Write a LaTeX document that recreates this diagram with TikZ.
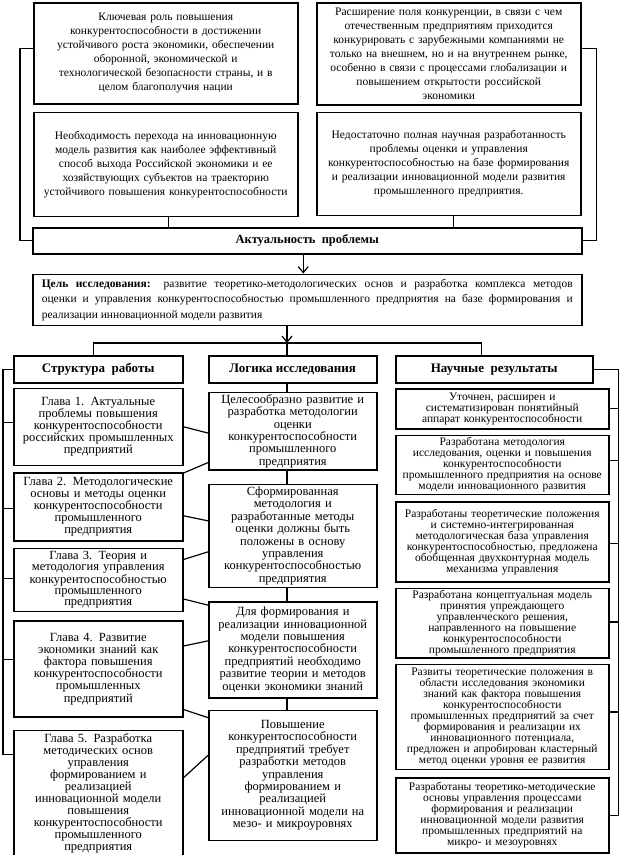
\documentclass[tikz,border=0pt]{standalone}
\usepackage{fontspec}
\setmainfont{Liberation Serif}
\usetikzlibrary{positioning,arrows.meta}

\begin{document}
\begin{tikzpicture}[
  x=1pt, y=-1pt,
  box/.style={draw,line width=1.5pt,align=center,inner sep=2pt},
  topbox/.style={box,text width=260pt,minimum width=264pt,font=\fontsize{11.5}{14}\selectfont},
  headbox/.style={box,minimum height=27pt,font=\bfseries\fontsize{13}{15}\selectfont},
  chbox/.style={box,text width=165pt,minimum width=169pt,font=\fontsize{12.5}{12.2}\selectfont},
  lgbox/.style={box,text width=164pt,minimum width=168pt,font=\fontsize{12.5}{12.4}\selectfont},
  resbox/.style={box,text width=209pt,minimum width=213pt,font=\fontsize{11.5}{11}\selectfont},
  conn/.style={line width=1.2pt},
  arr/.style={conn,-{Straight Barb[length=6pt,width=10pt]}},
]
\useasboundingbox (0,0) rectangle (622,855);

% актуальность
\node[topbox,minimum height=101pt,anchor=north west] (prob1) at (33,2)
  {Ключевая роль повышения\\ конкурентоспособности в достижении\\
   устойчивого роста экономики, обеспечении\\ оборонной, экономической и\\
   технологической безопасности страны, и в\\ целом благополучия нации};
\node[topbox,minimum height=104pt,below=7pt of prob1] (prob2)
  {Необходимость перехода на инновационную\\ модель развития как наиболее эффективный\\
   способ выхода Российской экономики и ее\\ хозяйствующих субъектов на траекторию\\
   устойчивого повышения конкурентоспособности};
\node[topbox,minimum height=102pt,anchor=north west] (prob3) at (316,2)
  {Расширение поля конкуренции, в связи с чем\\ отечественным предприятиям приходится\\
   конкурировать с зарубежными компаниями не\\ только на внешнем, но и на внутреннем рынке,\\
   особенно в связи с процессами глобализации и\\ повышением открытости российской\\ экономики};
\node[topbox,minimum height=103pt,below=6pt of prob3] (prob4)
  {Недостаточно полная научная разработанность\\ проблемы оценки и управления\\
   конкурентоспособностью на базе формирования\\ и реализации инновационной модели развития\\
   промышленного предприятия.};

\node[box,minimum width=549pt,minimum height=26pt,font=\bfseries\fontsize{12.5}{15}\selectfont,
      anchor=north west] (act) at (32,227) {Актуальность\ \ проблемы};

\node[box,align=justify,text width=531pt,inner xsep=9pt,inner ysep=3pt,minimum height=51pt,
      font=\fontsize{11.5}{15.5}\selectfont,below=19pt of act] (goal)
  {\textbf{Цель исследования:} развитие теоретико-методологических основ и разработка комплекса методов\linebreak
   оценки и управления конкурентоспособностью промышленного предприятия на базе формирования и\linebreak
   реализации инновационной модели развития};

\draw[conn] ([yshift=5pt]prob1.west) -| ([xshift=-12pt]act.west) -- (act.west);
\draw[conn] ([yshift=5pt]prob3.east) -| ([xshift=14pt]act.east) -- (act.east);
\draw[conn] ([xshift=3pt]prob2.south) -- ([xshift=3pt]prob2.south |- act.north);
\draw[conn] ([xshift=5pt]prob4.south) -- ([xshift=5pt]prob4.south |- act.north);
\draw[arr] ([xshift=-4pt]act.south) -- ([xshift=-4pt]act.south |- goal.north);

% структура работы
\node[headbox,minimum width=169pt,anchor=north west] (shead) at (13,355) {Структура\ \ работы};
\node[chbox,minimum height=77pt,below=4pt of shead] (ch1)
  {Глава 1. Актуальные\\ проблемы повышения\\ конкурентоспособности\\ российских промышленных\\ предприятий};
\node[chbox,minimum height=68pt,below=6pt of ch1] (ch2)
  {Глава 2. Методологические\\ основы и методы оценки\\ конкурентоспособности\\ промышленного\\ предприятия};
\node[chbox,minimum height=63pt,below=6pt of ch2,font=\fontsize{12.5}{11.3}\selectfont] (ch3)
  {Глава 3. Теория и\\ методология управления\\ конкурентоспособностью\\ промышленного\\ предприятия};
\node[chbox,minimum height=96pt,below=8pt of ch3] (ch4)
  {Глава 4. Развитие\\ экономики знаний как\\ фактора повышения\\ конкурентоспособности\\ промышленных\\ предприятий};
\node[chbox,minimum height=127pt,below=12pt of ch4,font=\fontsize{12.5}{12}\selectfont] (ch5)
  {Глава 5. Разработка\\ методических основ\\ управления\\ формированием и\\ реализацией\\
   инновационной модели\\ повышения\\ конкурентоспособности\\ промышленного\\ предприятия};

% логика исследования
\node[headbox,minimum width=168pt,anchor=north west] (lhead) at (208,355) {Логика исследования};
\node[lgbox,minimum height=77pt,below=8pt of lhead] (lg1)
  {Целесообразно развитие и\\ разработка методологии\\ оценки\\ конкурентоспособности\\ промышленного\\ предприятия};
\node[lgbox,minimum height=103pt,below=13pt of lg1] (lg2)
  {Сформированная\\ методология и\\ разработанные методы\\ оценки должны быть\\ положены в основу\\
   управления\\ конкурентоспособностью\\ предприятия};
\node[lgbox,minimum height=96pt,below=13pt of lg2] (lg3)
  {Для формирования и\\ реализации инновационной\\ модели повышения\\ конкурентоспособности\\
   предприятий необходимо\\ развитие теории и методов\\ оценки экономики знаний};
\node[lgbox,minimum height=130pt,below=11pt of lg3] (lg4)
  {Повышение\\ конкурентоспособности\\ предприятий требует\\ разработки методов\\ управления\\
   формированием и\\ реализацией\\ инновационной модели на\\ мезо- и микроуровнях};

% научные результаты
\node[headbox,minimum width=197pt,anchor=north west] (rhead) at (395,355) {Научные\ \ результаты};
\node[resbox,minimum height=40pt,anchor=north west] (res1) at (395,388)
  {Уточнен, расширен и\\ систематизирован понятийный\\ аппарат конкурентоспособности};
\node[resbox,minimum height=59pt,below=5pt of res1] (res2)
  {Разработана методология\\ исследования, оценки и повышения\\ конкурентоспособности\\
   промышленного предприятия на основе\\ модели инновационного развития};
\node[resbox,minimum height=80pt,below=6pt of res2] (res3)
  {Разработаны теоретические положения\\ и системно-интегрированная\\ методологическая база управления\\
   конкурентоспособностью, предложена\\ обобщенная двухконтурная модель\\ механизма управления};
\node[resbox,minimum height=69pt,below=5pt of res3] (res4)
  {Разработана концептуальная модель\\ принятия упреждающего\\ управленческого решения,\\
   направленного на повышение\\ конкурентоспособности\\ промышленного предприятия};
\node[resbox,minimum height=105pt,below=5pt of res4] (res5)
  {Развиты теоретические положения в\\ области исследования экономики\\ знаний как фактора повышения\\
   конкурентоспособности\\ промышленных предприятий за счет\\ формирования и реализации их\\
   инновационного потенциала,\\ предложен и апробирован кластерный\\ метод оценки уровня ее развития};
\node[resbox,minimum height=75pt,below=7pt of res5] (res6)
  {Разработаны теоретико-методические\\ основы управления процессами\\ формирования и реализации\\
   инновационной модели развития\\ промышленных предприятий на\\ микро- и мезоуровнях};

% от цели к колонкам
\coordinate (bus) at (287,343);
\draw[arr] (goal.south -| bus) -- (bus);
\draw[conn] ([xshift=-5pt]shead.north) |- (bus) -| ([xshift=-13pt]rhead.north);
\draw[conn] (bus) -- (bus |- lhead.north);
\foreach \a/\b in {lhead/lg1,lg1/lg2,lg2/lg3,lg3/lg4}
  \draw[conn] (\a.south -| bus) -- (\b.north -| bus);

% скобки
\draw[conn] (shead.west) -- ++(-10,0) |- ([yshift=39pt]ch5.west);
\foreach \n/\s in {ch1/4,ch2/-2,ch3/1,ch4/9}
  \draw[conn] ([yshift=\s pt]\n.west) -- ++(-10,0);
\draw[conn] (rhead.east) -- ++(25,0) |- (res6.east);
\foreach \n/\s in {res1/0,res2/4,res3/-2,res4/1,res5/5}
  \draw[conn] ([yshift=\s pt]\n.east) -- ++(9,0);

% главы -> логика
\draw[conn] (ch1.east) -- ([yshift=-2pt]lg1.west);
\draw[conn] ([yshift=-1pt]ch2.north east) -- ([yshift=8pt]lg1.south west);
\draw[conn] ([yshift=-9pt]ch2.east) -- ([yshift=15pt]lg2.west);
\draw[conn] ([yshift=-12pt]ch3.north east) -- ([yshift=-16pt]lg2.west);
\draw[conn] ([yshift=13pt]ch3.south east) -- ([yshift=-4pt]lg3.north west);
\draw[conn] ([yshift=-26pt]ch4.north east) -- ([yshift=9pt]lg3.west);
\draw[conn] ([yshift=8pt]ch4.south east) -- ([yshift=-8pt]lg4.north west);
\draw[conn] ([yshift=16pt]ch5.east) -- ([yshift=20pt]lg4.west);
\end{tikzpicture}
\end{document}
